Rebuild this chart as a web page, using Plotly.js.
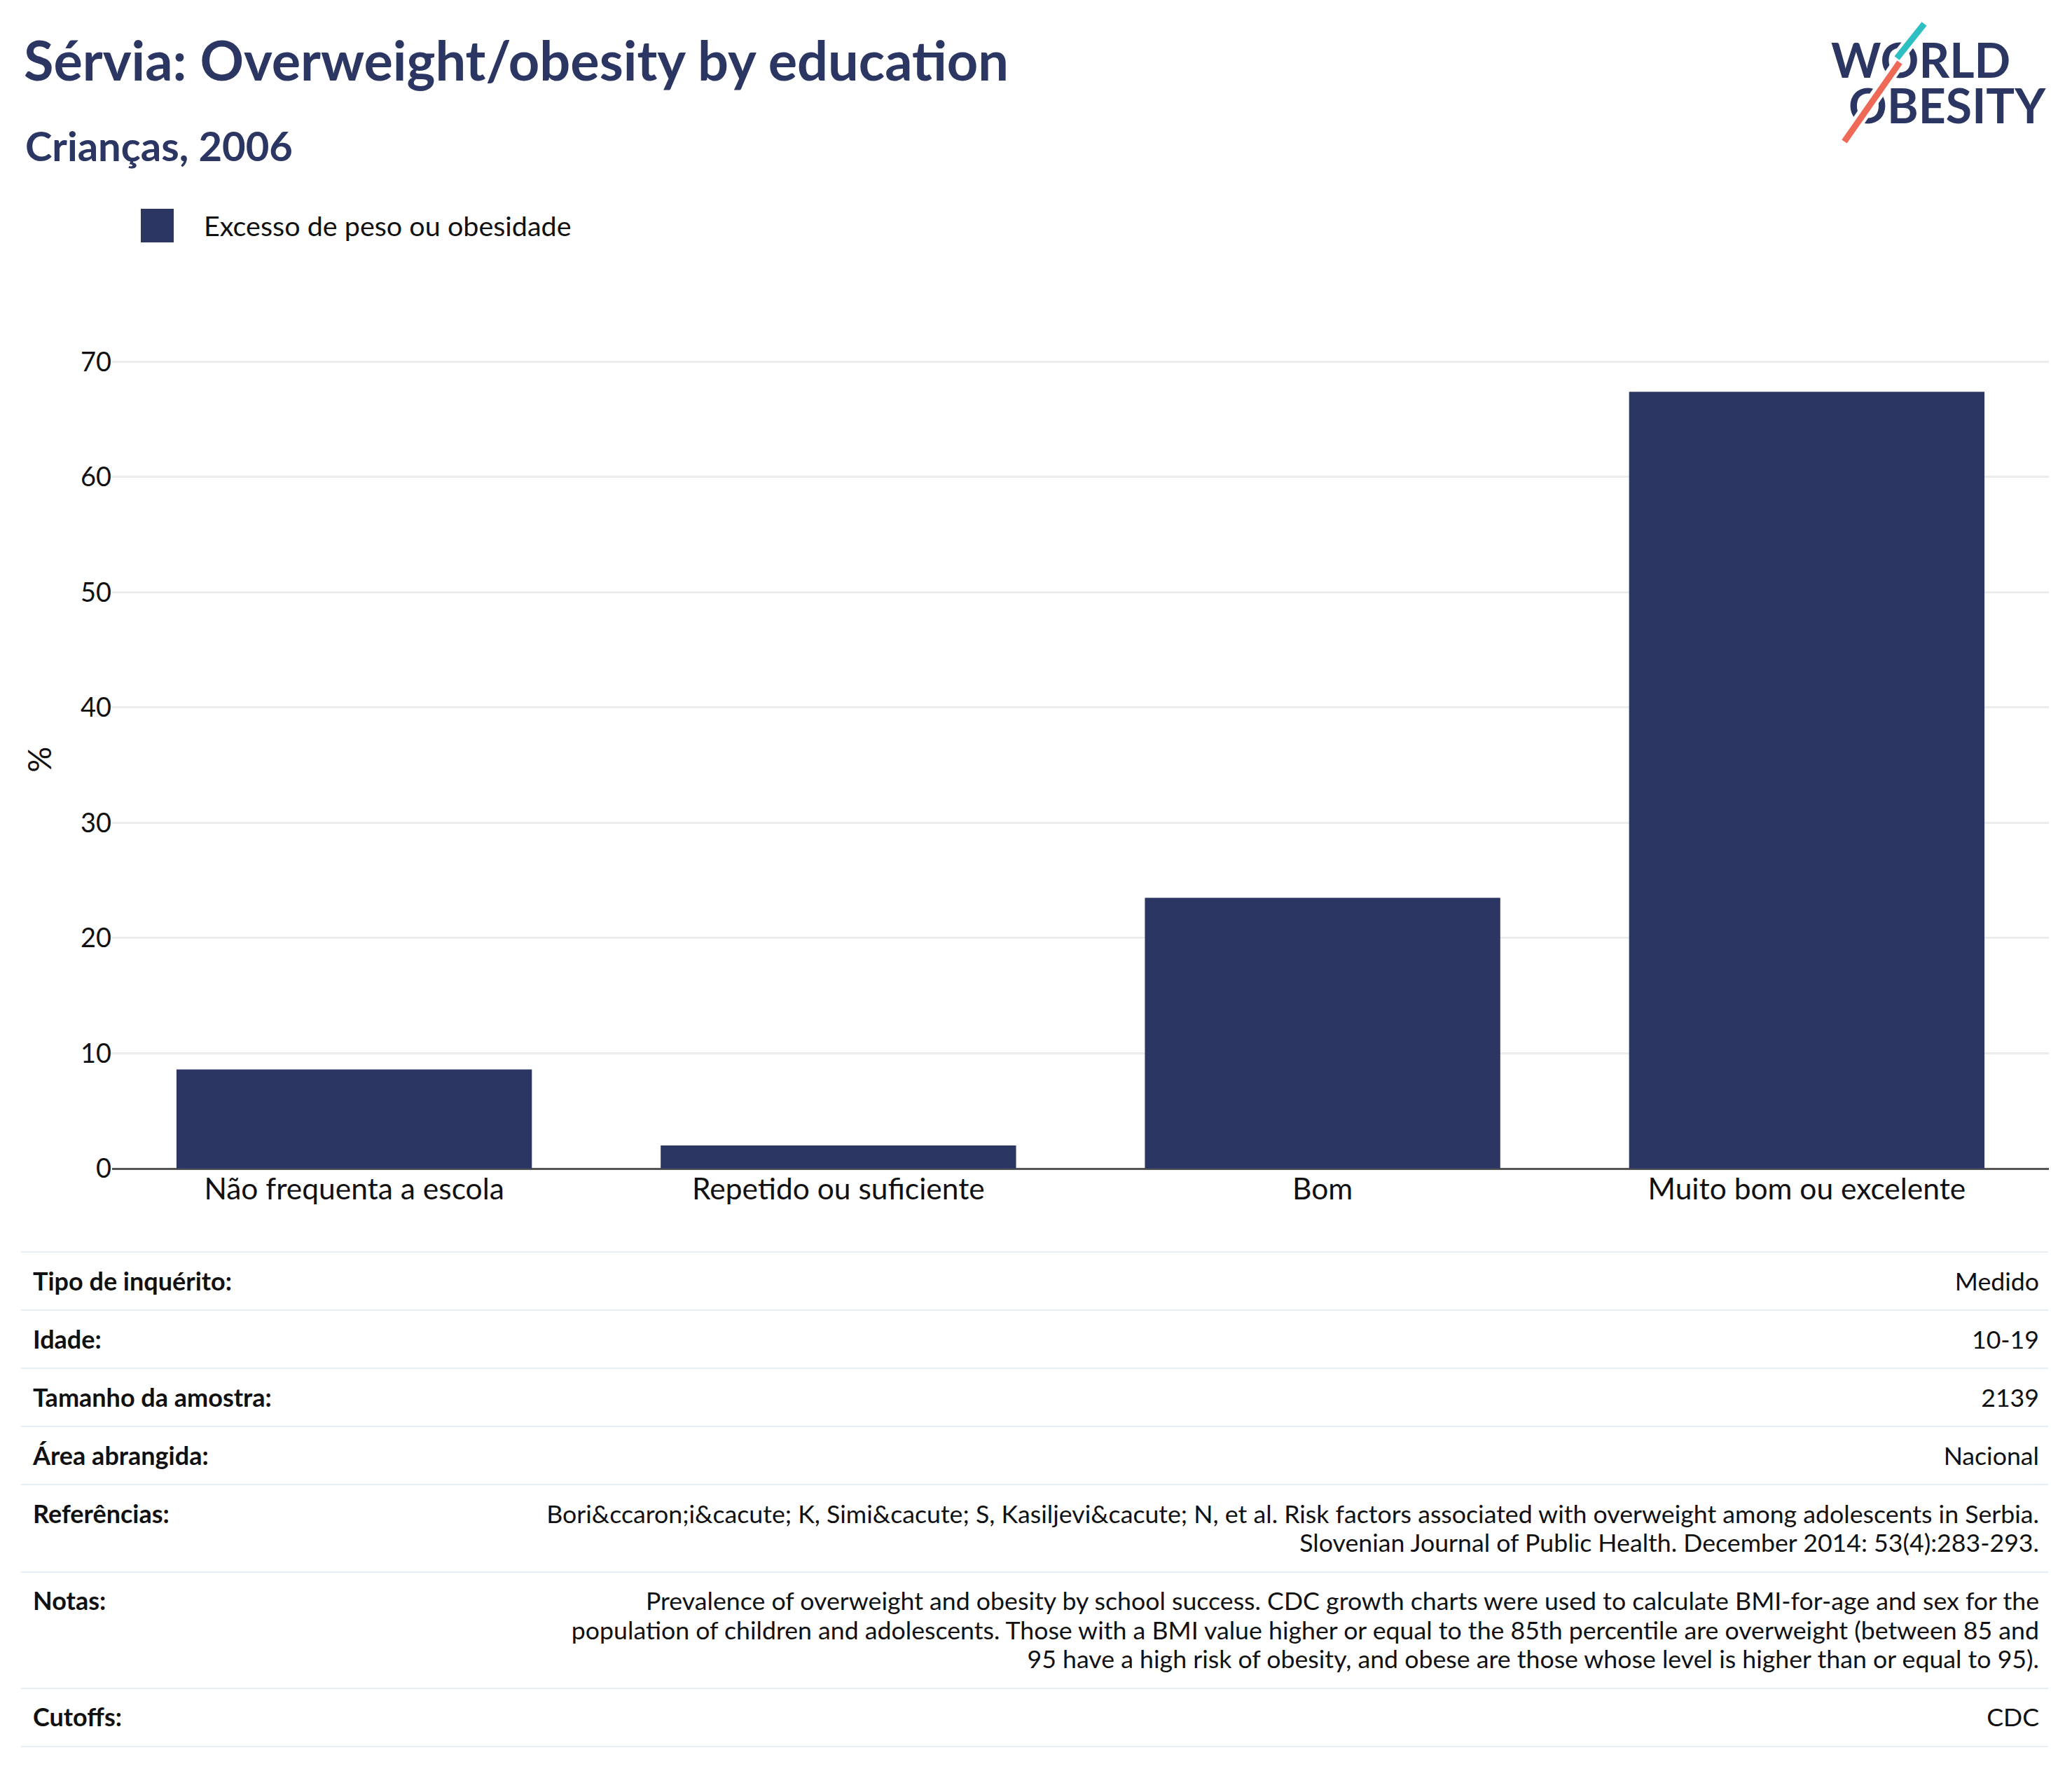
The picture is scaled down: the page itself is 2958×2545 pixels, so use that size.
<!DOCTYPE html>
<html>
<head>
<meta charset="utf-8">
<script src="https://cdn.plot.ly/plotly-3.0.1.min.js"></script>
<style>
  html, body { margin: 0; padding: 0; background: #ffffff; }
  body { width: 2958px; height: 2545px; position: relative; overflow: hidden; font-family: 'Lato', 'Noto Sans', sans-serif; }
  #chart { position: absolute; left: 0; top: 0; width: 2958px; height: 1770px; }
  #meta { position: absolute; left: 30px; top: 1786px; width: 2894px; }
  .row { display: flex; justify-content: space-between; align-items: flex-start;
         border-top: 2px solid #e8eef5; padding: 19.75px 13px 19.75px 17px; line-height: 41.5px; }
  .row:last-child { border-bottom: 2px solid #e8eef5; }
  .lab { font-weight: 700; font-size: 36px; color: #111111; white-space: nowrap; }
  .val { font-size: 35.7px; color: #111111; text-align: right; white-space: nowrap; }
  #logo { position: absolute; left: 2614px; top: 52px; font-family: 'Lato', sans-serif; font-weight: 700; font-size: 68px;
          line-height: 65px; color: #2b3663; white-space: pre; word-spacing: -4px; }
  #slashes { position: absolute; left: 0; top: 0; width: 2958px; height: 260px; pointer-events: none; }
</style>
</head>
<body>
<div id="chart"></div>
<div id="meta"></div>
<div id="logo"></div>
<svg id="slashes" width="2958" height="260">
  <line x1="2750" y1="30" x2="2706" y2="86" stroke="#ffffff" stroke-width="18"/>
  <line x1="2714" y1="85" x2="2630" y2="206" stroke="#ffffff" stroke-width="18"/>
  <line x1="2747" y1="34" x2="2708" y2="83" stroke="#2dbfc1" stroke-width="9"/>
  <line x1="2712" y1="89" x2="2633" y2="202" stroke="#ee6a56" stroke-width="9"/>
</svg>
<script>
// ---- data ----
const categories = ['Não frequenta a escola', 'Repetido ou suficiente', 'Bom', 'Muito bom ou excelente'];
const values = [8.6, 2.0, 23.5, 67.4];
const seriesName = 'Excesso de peso ou obesidade';
const chartTitle = 'Sérvia: Overweight/obesity by education';
const chartSubtitle = 'Crianças, 2006';
const yTitle = '%';
const yTicks = [0, 10, 20, 30, 40, 50, 60, 70];
const logoLines = ['WORLD', '  OBESITY'];

const metaLabels = ['Tipo de inquérito:', 'Idade:', 'Tamanho da amostra:', 'Área abrangida:', 'Referências:', 'Notas:', 'Cutoffs:'];
const metaValues = [
  ['Medido'],
  ['10-19'],
  ['2139'],
  ['Nacional'],
  ['Bori&ccaron;i&cacute; K, Simi&cacute; S, Kasiljevi&cacute; N, et al. Risk factors associated with overweight among adolescents in Serbia.',
   'Slovenian Journal of Public Health. December 2014: 53(4):283-293.'],
  ['Prevalence of overweight and obesity by school success. CDC growth charts were used to calculate BMI-for-age and sex for the',
   'population of children and adolescents. Those with a BMI value higher or equal to the 85th percentile are overweight (between 85 and',
   '95 have a high risk of obesity, and obese are those whose level is higher than or equal to 95).'],
  ['CDC']
];

// ---- styling ----
const NAVY = '#2b3663';
const FONT = 'Lato, "Noto Sans", sans-serif';
const W = 2958, H = 1770;
const M = {l: 160, r: 33, t: 500, b: 102};
const PW = W - M.l - M.r, PH = H - M.t - M.b;
const px2x = p => (p - M.l) / PW;
const py2y = p => (H - M.b - p) / PH;

const trace = {
  type: 'bar',
  x: categories,
  y: values,
  name: seriesName,
  marker: {color: NAVY, line: {width: 0}},
  hoverinfo: 'x+y'
};

const layout = {
  width: W, height: H,
  margin: M,
  paper_bgcolor: '#ffffff',
  plot_bgcolor: '#ffffff',
  showlegend: false,
  bargap: 0.266,
  font: {family: FONT, color: '#111111'},
  title: {
    text: '<b>' + chartTitle + '</b>',
    font: {family: FONT, size: 77.5, color: NAVY},
    xref: 'container', yref: 'container',
    x: 34 / W, xanchor: 'left',
    y: 1 - 88 / H, yanchor: 'middle'
  },
  xaxis: {
    type: 'category',
    showgrid: false,
    showline: false,
    ticks: '',
    tickfont: {family: FONT, size: 42.5, color: '#111111'}
  },
  yaxis: {
    range: [0, 71],
    tickvals: yTicks,
    showgrid: true,
    gridcolor: '#ececec',
    gridwidth: 3,
    zeroline: true,
    zerolinecolor: '#555555',
    zerolinewidth: 3,
    showline: false,
    ticks: '',
    tickfont: {family: FONT, size: 38, color: '#111111'},
    title: {text: yTitle, font: {family: FONT, size: 46, color: '#111111'}, standoff: 26}
  },
  annotations: [
    {text: '<b>' + chartSubtitle + '</b>', xref: 'paper', yref: 'paper', x: px2x(34), y: py2y(207),
     xanchor: 'left', yanchor: 'middle', showarrow: false, font: {family: FONT, size: 58, color: NAVY}},
    {text: seriesName, xref: 'paper', yref: 'paper', x: px2x(289), y: py2y(322),
     xanchor: 'left', yanchor: 'middle', showarrow: false, font: {family: FONT, size: 39.5, color: '#111111'}}
  ],
  shapes: [
    {type: 'rect', xref: 'paper', yref: 'paper', x0: px2x(201), x1: px2x(248), y0: py2y(346), y1: py2y(298),
     fillcolor: NAVY, line: {width: 0}}
  ]
};

Plotly.newPlot('chart', [trace], layout, {displayModeBar: false, staticPlot: true});

document.getElementById('logo').textContent = logoLines.join('\n');

// ---- metadata table ----
const meta = document.getElementById('meta');
metaLabels.forEach((lab, i) => {
  const row = document.createElement('div');
  row.className = 'row';
  const l = document.createElement('div');
  l.className = 'lab';
  l.textContent = lab;
  const v = document.createElement('div');
  v.className = 'val';
  metaValues[i].forEach((line, j) => {
    if (j > 0) v.appendChild(document.createElement('br'));
    v.appendChild(document.createTextNode(line));
  });
  row.appendChild(l);
  row.appendChild(v);
  meta.appendChild(row);
});
</script>
</body>
</html>
